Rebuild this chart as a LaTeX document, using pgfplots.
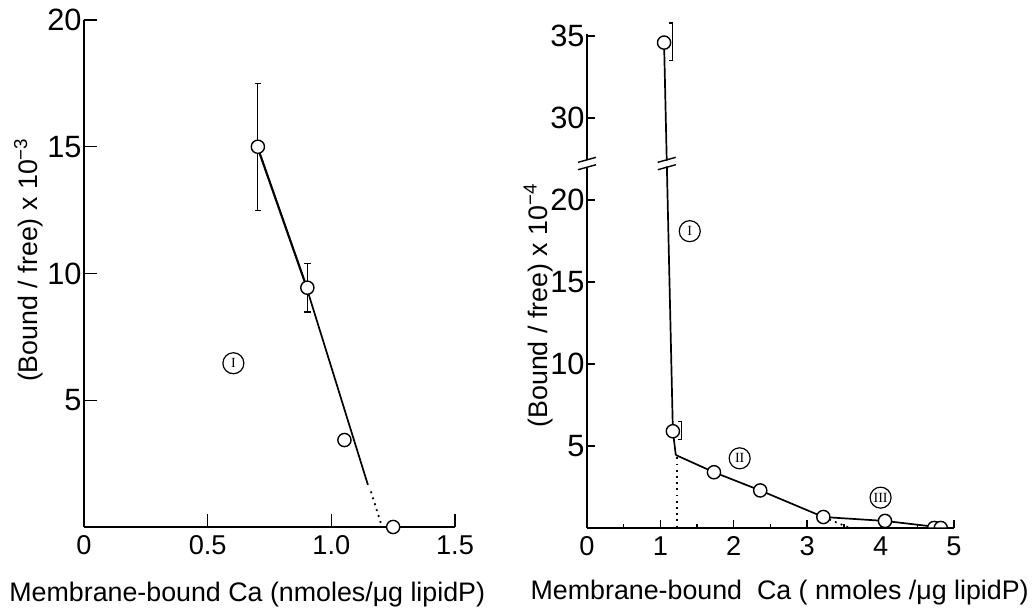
\documentclass[border=0pt]{standalone}
\usepackage{fontspec}
\setmainfont{Liberation Sans}
\newfontfamily\romfont{Liberation Serif}
\usepackage{pgfplots}
\pgfplotsset{compat=1.18}

\newcommand\labfont{\fontsize{13.4}{15}\selectfont}
\newcommand\xtkfont{\fontsize{13.6}{15}\selectfont}
\newcommand\ytkfont{\fontsize{15.4}{17}\selectfont}

\pgfdeclareplotmark{dome}{%
  \pgfpathmoveto{\pgfqpoint{-\pgfplotmarksize}{0pt}}%
  \pgfpatharc{180}{0}{\pgfplotmarksize}%
  \pgfpathclose
  \pgfusepathqfillstroke}

\tikzset{lab/.style={circle, draw, line width=0.6pt, inner sep=0pt, minimum size=10.5pt,
    font=\romfont\fontsize{7}{7}\selectfont}}

\pgfplotsset{
  figbase/.style={
    scale only axis, clip=false,
    axis x line=bottom, axis y line=left,
    axis line style={-, line width=0.7pt},
    tick align=inside,
    every tick/.style={black, line width=0.7pt},
    every x tick label/.append style={font=\xtkfont, inner sep=1pt, yshift=-3pt},
    every y tick label/.append style={font=\ytkfont, inner sep=1pt},
  },
  pts/.style={only marks, mark=*, mark size=3.3pt,
    mark options={fill=white, draw=black, line width=0.7pt}},
  ln/.style={black, line width=0.85pt, no marks},
  dots/.style={black, line width=0.9pt, no marks, dash pattern=on 0.9pt off 2.2pt},
}

\begin{document}
\labfont
\begin{tikzpicture}
\useasboundingbox (0,0) rectangle (517.5pt,305pt);

% ---------------- left panel ----------------
\begin{axis}[figbase,
  at={(42pt,41.5pt)}, anchor=south west,
  width=185.5pt, height=253.5pt,
  xmin=0, xmax=1.5, ymin=0, ymax=20,
  xtick={0,0.5,1,1.5}, xticklabels={0,0.5,1.0,1.5},
  ytick={5,10,15,20}, yticklabels={5,10,15,20},
  major tick length=6.3pt,
  xlabel={\labfont Membrane-bound Ca (nmoles/μg lipidP)},
  ylabel={\labfont (Bound / free) x 10\textsuperscript{−3}},
  every axis x label/.style={at={(rel axis cs:0.44,0)}, anchor=base, yshift=-37.5pt, font=\labfont},
  every axis y label/.style={at={(rel axis cs:-0.1496,0.527)}, rotate=90, anchor=center, font=\labfont},
]
\addplot[ln] coordinates {(0.70,15.0) (0.90,9.44) (1.148,1.66)};
\addplot[dots] coordinates {(1.16,1.40) (1.205,0.0)};
\addplot[black, line width=0.6pt, no marks,
  error bars/.cd, y dir=both, y explicit,
  error mark options={rotate=90, black, line width=0.6pt, mark size=1.6pt}]
  coordinates {(0.703,15.0) += (0,2.5) -= (0,2.5)
               (0.903,9.44) += (0,0.97) -= (0,0.96)};
\addplot[pts] coordinates {(0.703,15.0) (0.903,9.44) (1.053,3.43) (1.25,0.0)};
\node[lab] at (axis cs:0.604,6.46) {I};
\end{axis}

% ---------------- right panel ----------------
% y axis is broken: values above the break are plotted 5 units lower
\begin{axis}[figbase,
  at={(293.5pt,41pt)}, anchor=south west,
  width=183.5pt, height=246.8pt,
  xmin=0, xmax=5, ymin=0, ymax=30.1,
  xtick={0,1,2,3,4,5}, xticklabels={0,1,2,3,4,5},
  minor xtick={0.5,1.5,2.5,3.5,4.5},
  ytick={5,10,15,20,25,30}, yticklabels={5,10,15,20,30,35},
  major tick length=4pt, minor tick length=2pt,
  xlabel={\labfont Membrane-bound\ \ Ca ( nmoles /μg lipidP)},
  ylabel={\labfont (Bound / free) x 10\textsuperscript{−4}},
  every axis x label/.style={at={(rel axis cs:0.525,0)}, anchor=base, yshift=-36pt, font=\labfont},
  every axis y label/.style={at={(rel axis cs:-0.133,0.451)}, rotate=90, anchor=center, font=\labfont},
]
% line I
\addplot[ln] coordinates {(1.05,29.6) (1.17,5.9) (1.21,4.45)};
% line II
\addplot[ln] coordinates {(1.21,4.45) (1.73,3.40) (2.36,2.29) (3.22,0.67)};
% line III
\addplot[ln] coordinates {(3.22,0.67) (4.06,0.43) (4.73,0.08)};
% extrapolations
\addplot[dots] coordinates {(1.225,4.3) (1.225,0.0)};
\addplot[dots] coordinates {(3.30,0.52) (3.57,0.02)};
% error brackets
\addplot[black, line width=0.6pt, no marks] coordinates {(1.115,30.8) (1.17,30.8) (1.17,28.5) (1.115,28.5)};
\addplot[black, line width=0.6pt, no marks] coordinates {(1.235,6.5) (1.29,6.5) (1.29,5.4) (1.235,5.4)};
% points
\addplot[pts] coordinates {(1.05,29.6) (1.17,5.9) (1.73,3.40) (2.36,2.29) (3.22,0.67) (4.06,0.43)};
\addplot[pts, mark=dome] coordinates {(4.73,0.0) (4.82,0.0)};
% axis break marks
\draw[white, line width=2.4pt] (axis cs:0,22.02) -- (axis cs:0,22.43);
\draw[line width=0.7pt] ([xshift=-4.5pt,yshift=-1.25pt]axis cs:0,22.45) -- ([xshift=4.5pt,yshift=1.25pt]axis cs:0,22.45);
\draw[line width=0.7pt] ([xshift=-4.5pt,yshift=-1.25pt]axis cs:0,22.0) -- ([xshift=4.5pt,yshift=1.25pt]axis cs:0,22.0);
\draw[white, line width=2.4pt] (axis cs:1.0875,22.05) -- (axis cs:1.0855,22.40);
\draw[line width=0.7pt] ([xshift=-4.5pt,yshift=-1.25pt]axis cs:1.0855,22.45) -- ([xshift=4.5pt,yshift=1.25pt]axis cs:1.0855,22.45);
\draw[line width=0.7pt] ([xshift=-4.5pt,yshift=-1.25pt]axis cs:1.0875,22.0) -- ([xshift=4.5pt,yshift=1.25pt]axis cs:1.0875,22.0);
% region labels
\node[lab] at (axis cs:1.40,18.1) {I};
\node[lab] at (axis cs:2.08,4.25) {II};
\node[lab] at (axis cs:4.00,1.85) {III};
\end{axis}
\end{tikzpicture}
\end{document}
